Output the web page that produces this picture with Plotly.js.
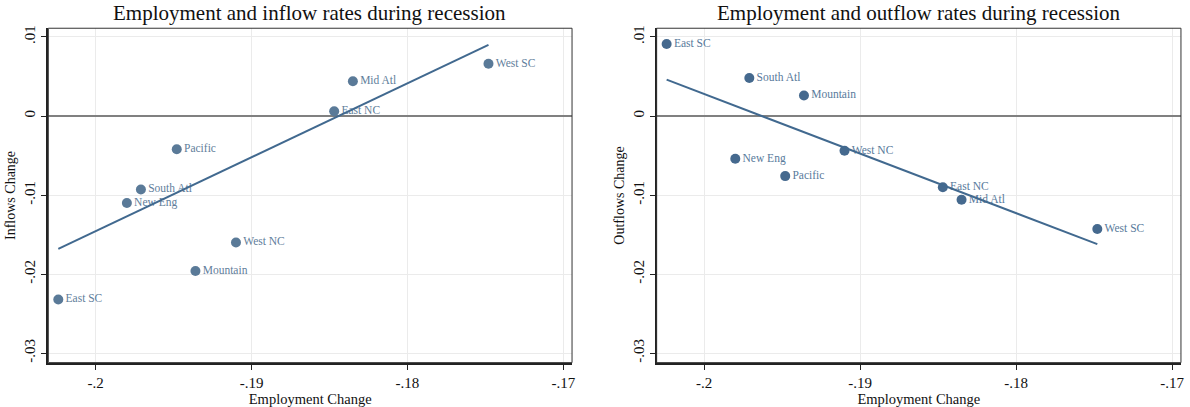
<!DOCTYPE html>
<html>
<head>
<meta charset="utf-8">
<script src="https://cdn.plot.ly/plotly-3.0.1.min.js"></script>
<style>html,body{margin:0;padding:0;background:#fff;}#chart{width:1190px;height:407px;}</style>
</head>
<body>
<div id="chart"></div>
<script>
// Region names
const regions = ["West SC", "Mid Atl", "East NC", "Pacific", "South Atl", "New Eng", "West NC", "Mountain", "East SC"];
// Employment change (x, shared by both panels)
const employment = [-0.1748, -0.1835, -0.1847, -0.1948, -0.1971, -0.1980, -0.1910, -0.1936, -0.2024];
// Inflows change (left panel)
const inflows = [0.0066, 0.0044, 0.0006, -0.0042, -0.0093, -0.0110, -0.0160, -0.0196, -0.0232];
// Outflows change (right panel)
const outflows = [-0.0143, -0.0106, -0.0090, -0.0076, 0.0048, -0.0054, -0.0044, 0.0026, 0.0091];
// Fitted lines (endpoints)
const fitX = [-0.2024, -0.1748];
const fitInflows = [-0.0168, 0.0090];
const fitOutflows = [0.0046, -0.0162];
// Tick labels
const xTickVals = [-0.20, -0.19, -0.18, -0.17];
const xTickText = ["-.2", "-.19", "-.18", "-.17"];
const yTickVals = [0.01, 0, -0.01, -0.02, -0.03];
const yTickText = [".01", "0", "-.01", "-.02", "-.03"];

const serif = "Liberation Serif, Times New Roman, serif";
const labelColorL = "#5f7e9b";
const dotColorL = "#5a7a98";
const dotColorR = "#45698e";
const labelColorR = "#587a9b";
const lineColor = "#41698f";

const traces = [
  {x: employment, y: inflows, text: regions, mode: "markers+text", type: "scatter",
   textposition: "middle right", marker: {size: 10, color: dotColorL},
   textfont: {family: serif, size: 11.5, color: labelColorL}, xaxis: "x", yaxis: "y", cliponaxis: false, hoverinfo: "none"},
  {x: fitX, y: fitInflows, mode: "lines", type: "scatter", line: {color: lineColor, width: 2},
   xaxis: "x", yaxis: "y", hoverinfo: "none"},
  {x: employment, y: outflows, text: regions, mode: "markers+text", type: "scatter",
   textposition: "middle right", marker: {size: 10, color: dotColorR},
   textfont: {family: serif, size: 11.5, color: labelColorR}, xaxis: "x2", yaxis: "y2", cliponaxis: false, hoverinfo: "none"},
  {x: fitX, y: fitOutflows, mode: "lines", type: "scatter", line: {color: lineColor, width: 2},
   xaxis: "x2", yaxis: "y2", hoverinfo: "none"}
];

const xRange = [-0.20304, -0.16944];
const yRange = [-0.03119, 0.0111];
const yDomain = [0.1090, 0.9306];

function xAxis(domain, anchor) {
  return {
    domain: domain, anchor: anchor, range: xRange, tickvals: xTickVals, ticktext: xTickText,
    showgrid: true, gridcolor: "#ebebeb", gridwidth: 1, zeroline: false,
    showline: true, linecolor: "#222", linewidth: 2, ticks: "outside", ticklen: 5, tickwidth: 1, tickcolor: "#222",
    tickfont: {family: serif, size: 15, color: "#111"},
    title: {text: "Employment Change", font: {family: serif, size: 14.5, color: "#111"}, standoff: 1},
    fixedrange: true, automargin: false
  };
}
function yAxis(domain, anchor, title) {
  return {
    domain: domain, anchor: anchor, range: yRange, tickvals: yTickVals, ticktext: yTickText,
    tickangle: -90,
    showgrid: true, gridcolor: "#ebebeb", gridwidth: 1,
    zeroline: true, zerolinecolor: "#808080", zerolinewidth: 1.5,
    showline: true, linecolor: "#222", linewidth: 2, ticks: "outside", ticklen: 5, tickwidth: 1, tickcolor: "#222",
    tickfont: {family: serif, size: 15, color: "#111"},
    title: {text: title, font: {family: serif, size: 14, color: "#111"}, standoff: 3},
    fixedrange: true, automargin: false
  };
}

const layout = {
  width: 1190, height: 407,
  margin: {l: 0, r: 0, t: 0, b: 0},
  paper_bgcolor: "#ffffff", plot_bgcolor: "#ffffff",
  showlegend: false,
  xaxis: xAxis([0.0406, 0.4807], "y"),
  yaxis: yAxis(yDomain, "x", "Inflows Change"),
  xaxis2: xAxis([0.5518, 0.9924], "y2"),
  yaxis2: yAxis(yDomain, "x2", "Outflows Change"),
  shapes: [
    {type: "rect", xref: "x domain", yref: "y domain", x0: 0, x1: 1, y0: 0, y1: 1, line: {color: "#333", width: 1}, layer: "above"},
    {type: "rect", xref: "x2 domain", yref: "y2 domain", x0: 0, x1: 1, y0: 0, y1: 1, line: {color: "#333", width: 1}, layer: "above"}
  ],
  annotations: [
    {text: "Employment and inflow rates during recession", xref: "paper", yref: "paper",
     x: 0.2605, y: 0.968, xanchor: "center", yanchor: "middle", showarrow: false,
     font: {family: serif, size: 21, color: "#111"}},
    {text: "Employment and outflow rates during recession", xref: "paper", yref: "paper",
     x: 0.7721, y: 0.968, xanchor: "center", yanchor: "middle", showarrow: false,
     font: {family: serif, size: 21, color: "#111"}}
  ]
};

Plotly.newPlot("chart", traces, layout, {staticPlot: true, displayModeBar: false});
</script>
</body>
</html>
